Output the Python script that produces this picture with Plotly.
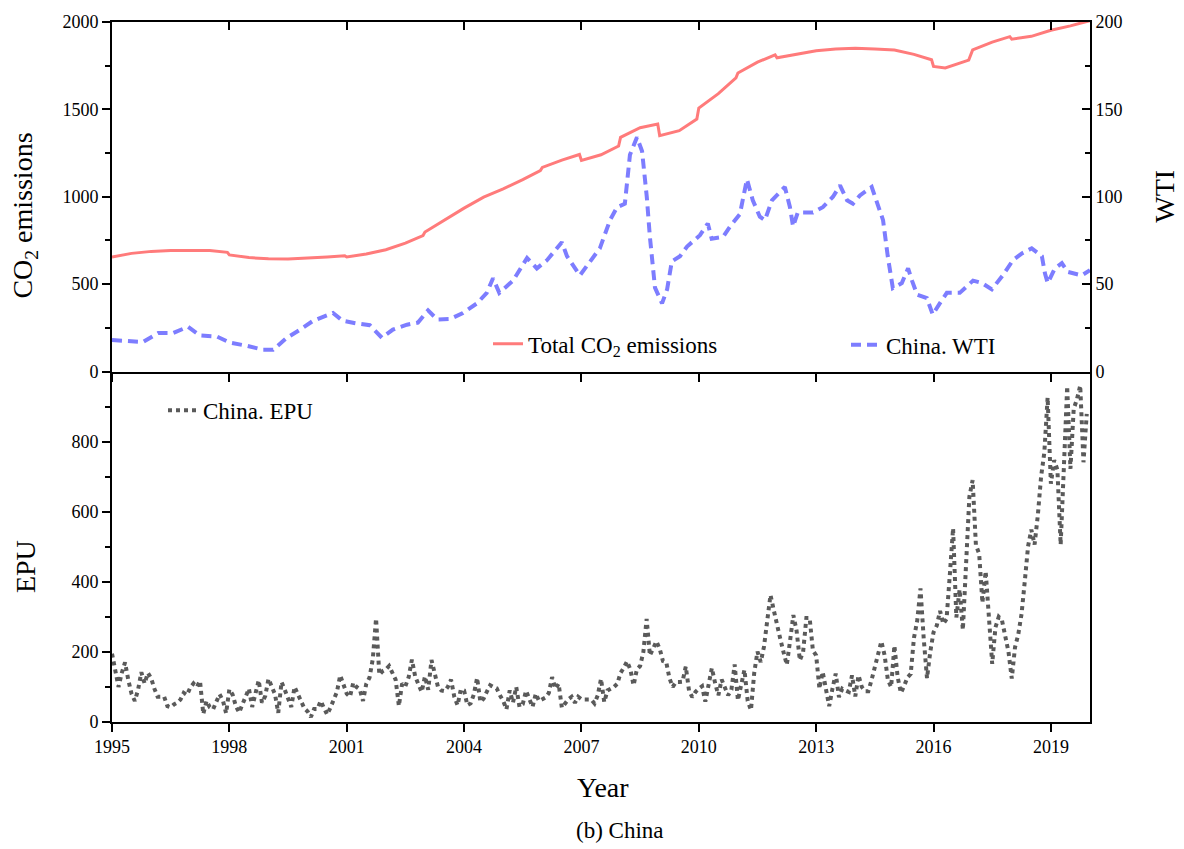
import plotly.graph_objects as go

# ---------------- data ----------------
co2_years = [1995.00, 1995.50, 1995.95, 1996.00, 1996.50, 1997.00, 1997.50, 1997.95, 1998.00, 1998.50,
             1999.00, 1999.50, 2000.00, 2000.50, 2000.95, 2001.00, 2001.50, 2002.00, 2002.50, 2002.95,
             2003.00, 2003.50, 2004.00, 2004.50, 2005.00, 2005.50, 2005.95, 2006.00, 2006.50, 2006.95,
             2007.00, 2007.50, 2007.95, 2008.00, 2008.50, 2008.95, 2009.00, 2009.50, 2009.95, 2010.00,
             2010.50, 2010.95, 2011.00, 2011.50, 2011.95, 2012.00, 2012.50, 2013.00, 2013.50, 2014.00,
             2014.50, 2015.00, 2015.50, 2015.95, 2016.00, 2016.30, 2016.90, 2017.00, 2017.50, 2017.95,
             2018.00, 2018.50, 2019.00, 2019.50, 2020.00]
co2_vals = [655, 676, 686, 687, 692, 694, 692, 682, 667, 652,
            645, 644, 648, 655, 662, 655, 672, 697, 735, 778,
            798, 866, 935, 998, 1045, 1098, 1150, 1168, 1210, 1242,
            1208, 1240, 1290, 1340, 1395, 1416, 1350, 1378, 1445, 1508,
            1590, 1680, 1708, 1770, 1812, 1795, 1815, 1836, 1846, 1850,
            1846, 1840, 1815, 1784, 1746, 1737, 1782, 1840, 1885, 1916,
            1902, 1918, 1953, 1978, 2008]

wti_years = [1995.00, 1995.46, 1995.79, 1996.18, 1996.56, 1996.94, 1997.25, 1997.68, 1998.02, 1998.45,
             1998.86, 1999.12, 1999.47, 1999.81, 2000.14, 2000.65, 2000.90, 2001.26, 2001.59, 2001.90,
             2002.18, 2002.54, 2002.82, 2003.08, 2003.31, 2003.64, 2003.97, 2004.33, 2004.58, 2004.74,
             2004.90, 2005.25, 2005.61, 2005.86, 2006.12, 2006.50, 2006.63, 2006.96, 2007.22, 2007.47,
             2007.73, 2007.91, 2008.11, 2008.24, 2008.42, 2008.55, 2008.67, 2008.75, 2008.88, 2009.06,
             2009.19, 2009.31, 2009.52, 2009.70, 2010.03, 2010.23, 2010.33, 2010.62, 2010.80, 2011.05,
             2011.23, 2011.38, 2011.56, 2011.69, 2011.87, 2012.20, 2012.33, 2012.41, 2012.53, 2012.92,
             2013.17, 2013.43, 2013.61, 2013.79, 2013.94, 2014.12, 2014.42, 2014.58, 2014.71, 2014.83,
             2014.89, 2014.96, 2015.19, 2015.35, 2015.45, 2015.58, 2015.83, 2015.98, 2016.16, 2016.34,
             2016.67, 2016.80, 2017.01, 2017.24, 2017.49, 2017.77, 2018.03, 2018.26, 2018.51, 2018.77,
             2018.85, 2018.92, 2019.10, 2019.28, 2019.43, 2019.79, 2020.00]
wti_vals = [18, 17.6, 16.9, 22, 22, 25.6, 20.6, 20, 16.5, 14.7,
            12.5, 12.5, 19.3, 24, 29, 33.5, 29, 27.5, 26.5, 19.3,
            24, 26.8, 28, 35, 29.8, 30, 33.5, 39, 45, 53.4,
            45, 52, 65, 59, 63.7, 74, 66, 55, 63, 70.5,
            86.6, 94, 96, 124, 134, 126, 100, 77, 48, 39,
            47, 63, 66, 71.5, 78, 84.7, 76, 77, 83, 90,
            110, 98, 88.6, 86.6, 98, 105.6, 94, 83, 91, 91,
            94, 100, 106.5, 98, 96, 100.8, 105.6, 96, 86.6, 66,
            58, 47.7, 50.6, 59, 52, 44, 42, 32.6, 39, 45,
            45, 47.7, 52, 50.6, 47, 55, 63.7, 67.6, 70.5, 66,
            56, 50.6, 59, 62, 57, 55, 58]

# China EPU, monthly, Jan 1995 - Dec 2019
epu_1995 = [195, 140, 100, 140, 170, 120, 80, 60, 92, 142, 110, 140]
epu_1996 = [125, 95, 72, 72, 72, 45, 42, 50, 55, 64, 83, 77]
epu_1997 = [98, 110, 100, 117, 23, 60, 42, 36, 55, 79, 62, 25]
epu_1998 = [93, 78, 45, 27, 50, 72, 95, 43, 80, 119, 55, 74]
epu_1999 = [123, 102, 79, 26, 114, 92, 67, 43, 100, 78, 55, 39]
epu_2000 = [30, 14, 37, 37, 60, 37, 21, 41, 62, 86, 133, 110]
epu_2001 = [81, 72, 112, 100, 93, 60, 109, 127, 180, 295, 135, 145]
epu_2002 = [150, 160, 140, 121, 46, 110, 102, 128, 178, 130, 107, 86]
epu_2003 = [130, 92, 177, 135, 100, 90, 88, 100, 121, 72, 48, 93]
epu_2004 = [90, 48, 53, 79, 126, 57, 67, 87, 105, 100, 96, 76]
epu_2005 = [60, 36, 90, 55, 100, 43, 51, 89, 64, 43, 81, 60]
epu_2006 = [65, 70, 83, 128, 95, 109, 41, 53, 65, 72, 55, 72]
epu_2007 = [65, 64, 64, 64, 53, 76, 123, 57, 90, 95, 100, 109]
epu_2008 = [140, 155, 173, 150, 105, 150, 160, 200, 294, 190, 209, 230]
epu_2009 = [209, 174, 171, 125, 100, 114, 114, 115, 158, 90, 71, 86]
epu_2010 = [95, 102, 58, 105, 154, 111, 76, 121, 100, 76, 92, 164]
epu_2011 = [62, 110, 149, 60, 34, 140, 201, 171, 215, 290, 362, 319]
epu_2012 = [272, 237, 199, 163, 232, 305, 260, 176, 200, 297, 297, 204]
epu_2013 = [190, 95, 143, 100, 45, 95, 138, 71, 95, 90, 86, 133]
epu_2014 = [73, 133, 100, 88, 88, 120, 157, 204, 230, 190, 120, 100]
epu_2015 = [218, 128, 83, 103, 127, 137, 240, 289, 381, 237, 125, 200]
epu_2016 = [256, 275, 317, 280, 294, 420, 553, 298, 378, 263, 451, 643]
epu_2017 = [690, 505, 480, 340, 430, 300, 166, 270, 300, 290, 250, 200]
epu_2018 = [124, 213, 250, 308, 402, 501, 549, 506, 590, 700, 770, 926]
epu_2019 = [680, 747, 720, 506, 730, 958, 722, 893, 921, 960, 741, 879]

epu_vals = (epu_1995 + epu_1996 + epu_1997 + epu_1998 + epu_1999 + epu_2000 + epu_2001 +
            epu_2002 + epu_2003 + epu_2004 + epu_2005 + epu_2006 + epu_2007 + epu_2008 +
            epu_2009 + epu_2010 + epu_2011 + epu_2012 + epu_2013 + epu_2014 + epu_2015 +
            epu_2016 + epu_2017 + epu_2018 + epu_2019)
epu_years = [1995 + i / 12 for i in range(len(epu_vals))]

year_ticks = [1995, 1998, 2001, 2004, 2007, 2010, 2013, 2016, 2019]

# ---------------- figure ----------------
FONT = "Liberation Serif, Times New Roman, serif"
SPLIT = 0.5007

fig = go.Figure()

fig.add_trace(go.Scatter(x=co2_years, y=co2_vals, mode="lines", xaxis="x2", yaxis="y",
                         name="Total CO<sub>2</sub> emissions", legend="legend",
                         line=dict(color="#FF7B7B", width=3)))
fig.add_trace(go.Scatter(x=wti_years, y=wti_vals, mode="lines", xaxis="x2", yaxis="y2",
                         name="China. WTI", legend="legend2",
                         line=dict(color="#7D7DFF", width=4, dash="10px,6px")))
fig.add_trace(go.Scatter(x=epu_years, y=epu_vals, mode="lines", xaxis="x", yaxis="y3",
                         name="China. EPU", legend="legend3",
                         line=dict(color="#5A5A5A", width=4, dash="4px,4px")))
# helper traces so the frame axes are drawn
fig.add_trace(go.Scatter(x=[None], y=[None], xaxis="x3", yaxis="y", showlegend=False, hoverinfo="skip"))
fig.add_trace(go.Scatter(x=[None], y=[None], xaxis="x", yaxis="y4", showlegend=False, hoverinfo="skip"))

axis_common = dict(showgrid=False, zeroline=False, showline=True, linecolor="black", linewidth=1.6,
                   tickcolor="black", tickwidth=1.6, tickfont=dict(family=FONT, size=18, color="black"))

fig.update_layout(
    width=1184, height=849,
    margin=dict(l=112, r=94, t=17, b=127),
    paper_bgcolor="white", plot_bgcolor="white",
    font=dict(family=FONT, color="black"),
    xaxis=dict(domain=[0, 1], anchor="y3", range=[1995, 2020], tickmode="array", tickvals=year_ticks,
               ticks="outside", ticklen=8, **axis_common),
    xaxis2=dict(domain=[0, 1], anchor="y", range=[1995, 2020], tickmode="array", tickvals=year_ticks,
                ticks="outside", ticklen=9, showticklabels=False, **axis_common),
    xaxis3=dict(overlaying="x2", anchor="y", side="top", range=[1995, 2020], tickmode="array",
                tickvals=year_ticks, ticks="inside", ticklen=8, showticklabels=False, **axis_common),
    yaxis=dict(domain=[SPLIT, 1], anchor="x2", range=[0, 2000], tickmode="linear", tick0=0, dtick=500,
               ticks="outside", ticklen=8,
               minor=dict(dtick=250, tick0=0, ticks="outside", ticklen=5, tickcolor="black", tickwidth=1.6),
               **axis_common),
    yaxis2=dict(overlaying="y", anchor="x2", side="right", range=[0, 200], tickmode="linear", tick0=0,
                dtick=50, ticks="inside", ticklen=8,
                minor=dict(dtick=25, tick0=0, ticks="inside", ticklen=5, tickcolor="black", tickwidth=1.6),
                **axis_common),
    yaxis3=dict(domain=[0, SPLIT], anchor="x", range=[0, 1000], tickmode="array",
                tickvals=[0, 200, 400, 600, 800], ticks="outside", ticklen=8,
                minor=dict(dtick=100, tick0=0, ticks="outside", ticklen=5, tickcolor="black", tickwidth=1.6),
                **axis_common),
    yaxis4=dict(overlaying="y3", anchor="x", side="right", range=[0, 1000], ticks="",
                showticklabels=False, **axis_common),
    legend=dict(x=(488 - 112) / 978, y=(722 - 341) / 705, xanchor="left", yanchor="middle",
                bgcolor="rgba(0,0,0,0)", font=dict(family=FONT, size=23, color="black")),
    legend2=dict(x=(846 - 112) / 978, y=(722 - 342) / 705, xanchor="left", yanchor="middle",
                 bgcolor="rgba(0,0,0,0)", font=dict(family=FONT, size=23, color="black")),
    legend3=dict(x=(163 - 112) / 978, y=(722 - 408) / 705, xanchor="left", yanchor="middle",
                 bgcolor="rgba(0,0,0,0)", font=dict(family=FONT, size=23, color="black")),
    annotations=[
        dict(text="CO<sub>2</sub> emissions", xref="paper", yref="paper", x=0, xshift=-87,
             y=(722 - 212) / 705, textangle=-90, showarrow=False, xanchor="center", yanchor="middle",
             font=dict(family=FONT, size=28, color="black")),
        dict(text="WTI", xref="paper", yref="paper", x=1, xshift=75, y=(722 - 193) / 705,
             textangle=-90, showarrow=False, xanchor="center", yanchor="middle",
             font=dict(family=FONT, size=28, color="black")),
        dict(text="EPU", xref="paper", yref="paper", x=0, xshift=-87, y=(722 - 566) / 705,
             textangle=-90, showarrow=False, xanchor="center", yanchor="middle",
             font=dict(family=FONT, size=28, color="black")),
        dict(text="Year", xref="paper", yref="paper", x=(603 - 112) / 978, y=(722 - 788) / 705,
             showarrow=False, xanchor="center", yanchor="middle",
             font=dict(family=FONT, size=28, color="black")),
        dict(text="(b) China", xref="paper", yref="paper", x=(620 - 112) / 978, y=(722 - 831) / 705,
             showarrow=False, xanchor="center", yanchor="middle",
             font=dict(family=FONT, size=23, color="black")),
    ],
)

fig.write_html("out.html")
